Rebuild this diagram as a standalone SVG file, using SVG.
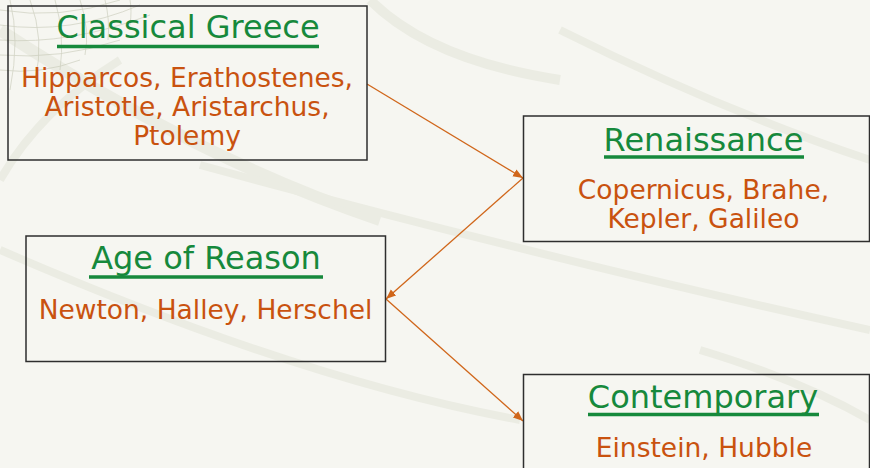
<svg xmlns="http://www.w3.org/2000/svg" width="870" height="468" viewBox="0 0 870 468">
<style>
.box{fill:none;stroke:#2e2e2e;stroke-width:1.5}
.title{font-family:"DejaVu Sans",sans-serif;font-size:32px;fill:#16893c;text-anchor:middle}
.body{font-family:"DejaVu Sans",sans-serif;font-size:26.5px;fill:#c9520f;text-anchor:middle}
.ul{stroke:#16893c;stroke-width:3.5}
.conn{stroke:#d0661a;stroke-width:1.3;fill:none;marker-end:url(#ah)}
.deco{fill:none;stroke:#ebece3}
.net{fill:none;stroke:#c4c6b4;stroke-width:0.8}
</style>
<defs>
<marker id="ah" viewBox="0 0 10 10" refX="10" refY="5" markerWidth="10" markerHeight="10" markerUnits="userSpaceOnUse" orient="auto">
<path d="M0,1 L10,5 L0,9 Z" fill="#d0661a"/>
</marker>
</defs>
<rect width="870" height="468" fill="#f6f6f1"/>
<g id="background">
<path class="deco" stroke-width="12" d="M0,30 Q200,160 380,220"/>
<path class="deco" stroke-width="8" d="M0,250 Q300,380 520,420"/>
<path class="deco" stroke-width="8" d="M200,165 Q550,260 870,330"/>
<path class="deco" stroke-width="8" d="M560,30 Q720,110 870,160"/>
<path class="deco" stroke-width="8" d="M700,350 Q800,380 870,420"/>
<path class="deco" stroke-width="10" d="M370,0 Q430,60 560,80"/>
<path class="deco" stroke-width="8" d="M0,180 Q40,110 120,60"/>
<g opacity="0.7">
<path class="net" d="M0,10 Q60,20 120,0"/>
<path class="net" d="M0,25 Q70,35 140,5"/>
<path class="net" d="M0,40 Q70,45 150,15"/>
<path class="net" d="M0,55 Q60,60 120,40"/>
<path class="net" d="M0,70 Q40,75 80,60"/>
<path class="net" d="M10,0 Q20,40 10,90"/>
<path class="net" d="M30,0 Q45,40 35,80"/>
<path class="net" d="M55,0 Q65,35 60,70"/>
<path class="net" d="M80,0 Q90,30 85,55"/>
<path class="net" d="M105,0 Q110,20 108,40"/>
<path class="net" d="M130,0 Q132,10 130,25"/>
</g>
</g>
<g id="connectors">
<line class="conn" x1="367" y1="84" x2="523" y2="178"/>
<line class="conn" x1="523" y1="178" x2="386" y2="299"/>
<line class="conn" x1="386" y1="299" x2="523" y2="421"/>
</g>
<g id="classical-greece">
<rect class="box" x="8" y="6" width="359" height="154"/>
<text class="title" x="188" y="38">Classical Greece</text>
<line class="ul" x1="57" y1="46.5" x2="319" y2="46.5"/>
<text class="body" x="187" y="87">Hipparcos, Erathostenes,</text>
<text class="body" x="187" y="116">Aristotle, Aristarchus,</text>
<text class="body" x="187" y="145">Ptolemy</text>
</g>
<g id="renaissance">
<rect class="box" x="523.5" y="116" width="346" height="125.5"/>
<text class="title" x="703.5" y="151">Renaissance</text>
<line class="ul" x1="604" y1="157" x2="804" y2="157"/>
<text class="body" x="703.5" y="198.5">Copernicus, Brahe,</text>
<text class="body" x="703.5" y="227.5">Kepler, Galileo</text>
</g>
<g id="age-of-reason">
<rect class="box" x="26" y="236" width="359.5" height="125.5"/>
<text class="title" x="206" y="269">Age of Reason</text>
<line class="ul" x1="89" y1="277" x2="323" y2="277"/>
<text class="body" x="205.5" y="319">Newton, Halley, Herschel</text>
</g>
<g id="contemporary">
<rect class="box" x="523.5" y="374.5" width="346" height="100"/>
<text class="title" x="703" y="408">Contemporary</text>
<line class="ul" x1="588" y1="414.5" x2="819" y2="414.5"/>
<text class="body" x="704" y="457">Einstein, Hubble</text>
</g>
</svg>
